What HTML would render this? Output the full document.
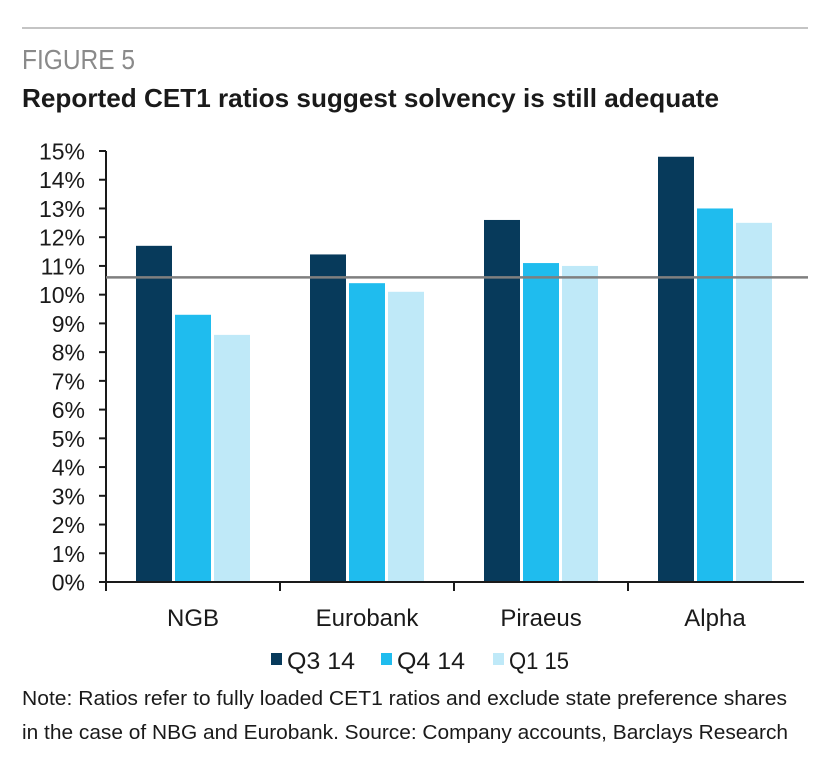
<!DOCTYPE html>
<html><head><meta charset="utf-8"><style>
body{margin:0;background:#fff;width:818px;height:764px;overflow:hidden;font-family:"Liberation Sans",sans-serif}
</style></head><body>
<svg width="818" height="764" viewBox="0 0 818 764" style="font-family:'Liberation Sans',sans-serif">
<line x1="22" y1="28" x2="808" y2="28" stroke="#c4c4c4" stroke-width="2"/>
<text x="22" y="69" font-size="28" fill="#8a8a8a" textLength="113" lengthAdjust="spacingAndGlyphs">FIGURE 5</text>
<text x="22" y="107" font-size="26" font-weight="bold" fill="#1a1a1a" textLength="697" lengthAdjust="spacingAndGlyphs">Reported CET1 ratios suggest solvency is still adequate</text>
<g id="plot"></g>
<text x="22" y="705" font-size="20" fill="#1a1a1a" textLength="765" lengthAdjust="spacingAndGlyphs">Note: Ratios refer to fully loaded CET1 ratios and exclude state preference shares</text>
<text x="22" y="739" font-size="20" fill="#1a1a1a" textLength="766" lengthAdjust="spacingAndGlyphs">in the case of NBG and Eurobank. Source: Company accounts, Barclays Research</text>
</svg>
<script>
const categories = ["NGB","Eurobank","Piraeus","Alpha"];
const q3 = [11.7,11.4,12.6,14.8];
const q4 = [9.3,10.4,11.1,13.0];
const q1 = [8.6,10.1,11.0,12.5];
const refLine = 10.6;
const seriesNames = ["Q3 14","Q4 14","Q1 15"];
const yTicks = [0,1,2,3,4,5,6,7,8,9,10,11,12,13,14,15];

const NS="http://www.w3.org/2000/svg";
const g=document.getElementById('plot');
const x0=106, x1=802, y0=582, yTop=151;
const series=[q3,q4,q1];
const colors=["#073a5b","#1fbcee","#bfe9f8"];
const catW=(x1-x0)/categories.length;
function y(v){return y0-(v/15)*(y0-yTop);}
function mk(tag,attrs){const e=document.createElementNS(NS,tag);for(const k in attrs)e.setAttribute(k,attrs[k]);g.appendChild(e);return e;}
const bw=36, gap=3, groupW=3*bw+2*gap;
categories.forEach((c,i)=>{
  const start=x0+i*catW+(catW-groupW)/2;
  series.forEach((s,j)=>{
    const r=mk('rect',{x:start+j*(bw+gap),y:y(s[i]),width:bw,height:y0-y(s[i]),fill:colors[j]});
    
    
  });
  const t=mk('text',{x:x0+(i+0.5)*catW,y:626,'font-size':24,'text-anchor':'middle',fill:'#1a1a1a'});
  t.textContent=c;
  
  
});
const ya=mk('line',{x1:x0,y1:yTop,x2:x0,y2:y0,stroke:'#1a1a1a','stroke-width':2});


yTicks.forEach(v=>{
  const tk=mk('line',{x1:x0-7,y1:y(v),x2:x0,y2:y(v),stroke:'#1a1a1a','stroke-width':2});
  
  
  const t=mk('text',{x:85,y:y(v)+8.5,'font-size':23,'text-anchor':'end',fill:'#1a1a1a'});
  t.textContent=v+'%';
  
  
});
const xa=mk('line',{x1:x0,y1:y0,x2:x1+2,y2:y0,stroke:'#1a1a1a','stroke-width':2});


for(let i=0;i<categories.length;i++){
  const tk=mk('line',{x1:x0+i*catW,y1:y0,x2:x0+i*catW,y2:y0+9,stroke:'#1a1a1a','stroke-width':2});
  
  
}
const rl=mk('line',{x1:x0,y1:y(refLine),x2:x1+6,y2:y(refLine),stroke:'#7f7f7f','stroke-width':2.5});


const lx=[271,381,493];
seriesNames.forEach((n,j)=>{
  const s=mk('rect',{x:lx[j],y:653,width:11,height:12,fill:colors[j]});
  
  
  const t=mk('text',{x:lx[j]+16,y:669,'font-size':24,fill:'#1a1a1a',textLength:n==='Q1 15'?60:68,lengthAdjust:'spacingAndGlyphs'});
  t.textContent=n;
  
  
});
</script>
</body></html>
